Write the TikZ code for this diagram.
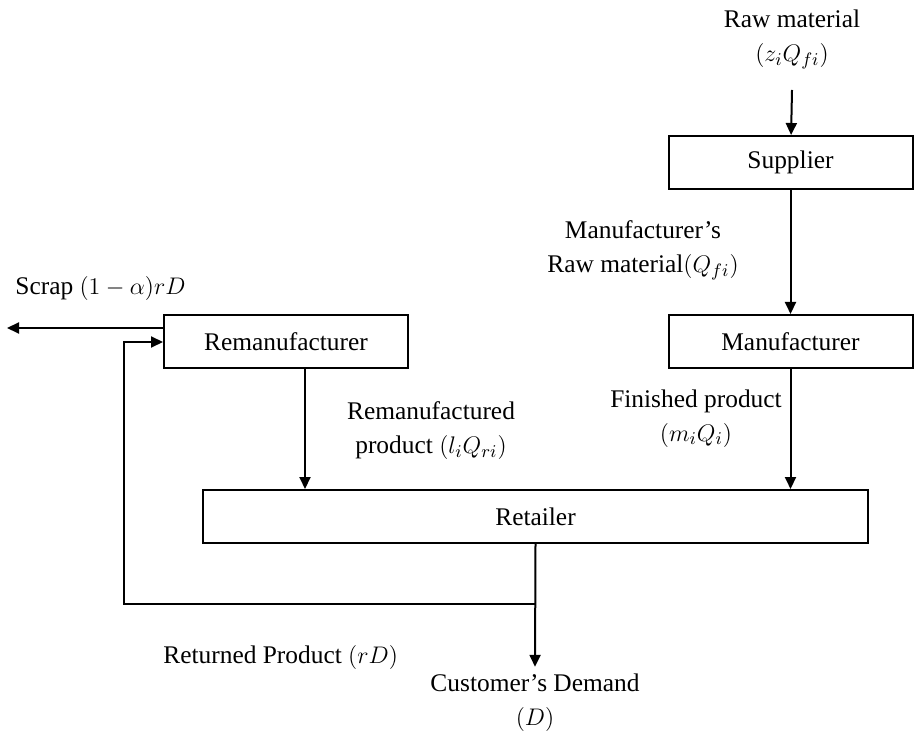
\documentclass[tikz,border=0pt]{standalone}
\usepackage{fontspec}
\setmainfont{Liberation Serif}
\usetikzlibrary{arrows.meta,positioning}

\begin{document}
\begin{tikzpicture}[
  x=0.5pt, y=-0.5pt,
  font=\fontsize{12.7}{17}\selectfont,
  node distance=62pt,
  stage/.style={draw, line width=1pt, inner sep=0pt, minimum width=122pt, minimum height=26.5pt},
  lbl/.style={inner sep=0pt, align=center},
  arr/.style={-{Triangle[length=6pt,width=5.5pt]}, line width=1pt}
]
\useasboundingbox (0,0) rectangle (914,731);

\node[stage] (sup) at (790.5,162.5) {Supplier};
\node[stage, below=of sup] (man) {Manufacturer};
\node[stage] (reman) at (286,342) {Remanufacturer};
\node[stage, minimum width=332.5pt] (ret) at (535.5,516.5) {Retailer};

\node[lbl] (raw) at (792,39.5) {Raw material\\$(z_iQ_{fi})$};
\node[lbl] (mraw) at (643,250) {Manufacturer’s\\Raw material$(Q_{fi})$};
\node[lbl] (fin) at (696,418.5) {Finished product\\$(m_iQ_i)$};
\node[lbl] (remp) at (431,430.5) {Remanufactured\\product $(l_iQ_{ri})$};
\node[lbl, anchor=base west] (scrap) at (15,295) {Scrap $(1-\alpha)rD$};
\node[lbl, anchor=base west] (retp) at (163,663) {Returned Product $(rD)$};
\node[lbl] (cust) at (535,703) {Customer’s Demand\\$(D)$};

\coordinate (rawin) at (792,90);
\coordinate (split) at (ret.south |- 0,604);
\coordinate (scrapend) at (7,328);

\draw[arr] (rawin) -- (sup);
\draw[arr] (sup) -- (man);
\draw[arr] (man) -- (man.south |- ret.north);
\draw[arr] ([xshift=9.5pt]reman.south) -- ([xshift=9.5pt]reman.south |- ret.north);
\draw[arr] (ret.south) -- ([yshift=3.5pt]cust.north);
\draw[arr] (split) -- (124,604) |- (reman.west);
\draw[arr] ([yshift=7pt]reman.west) -- (scrapend);
\end{tikzpicture}
\end{document}
